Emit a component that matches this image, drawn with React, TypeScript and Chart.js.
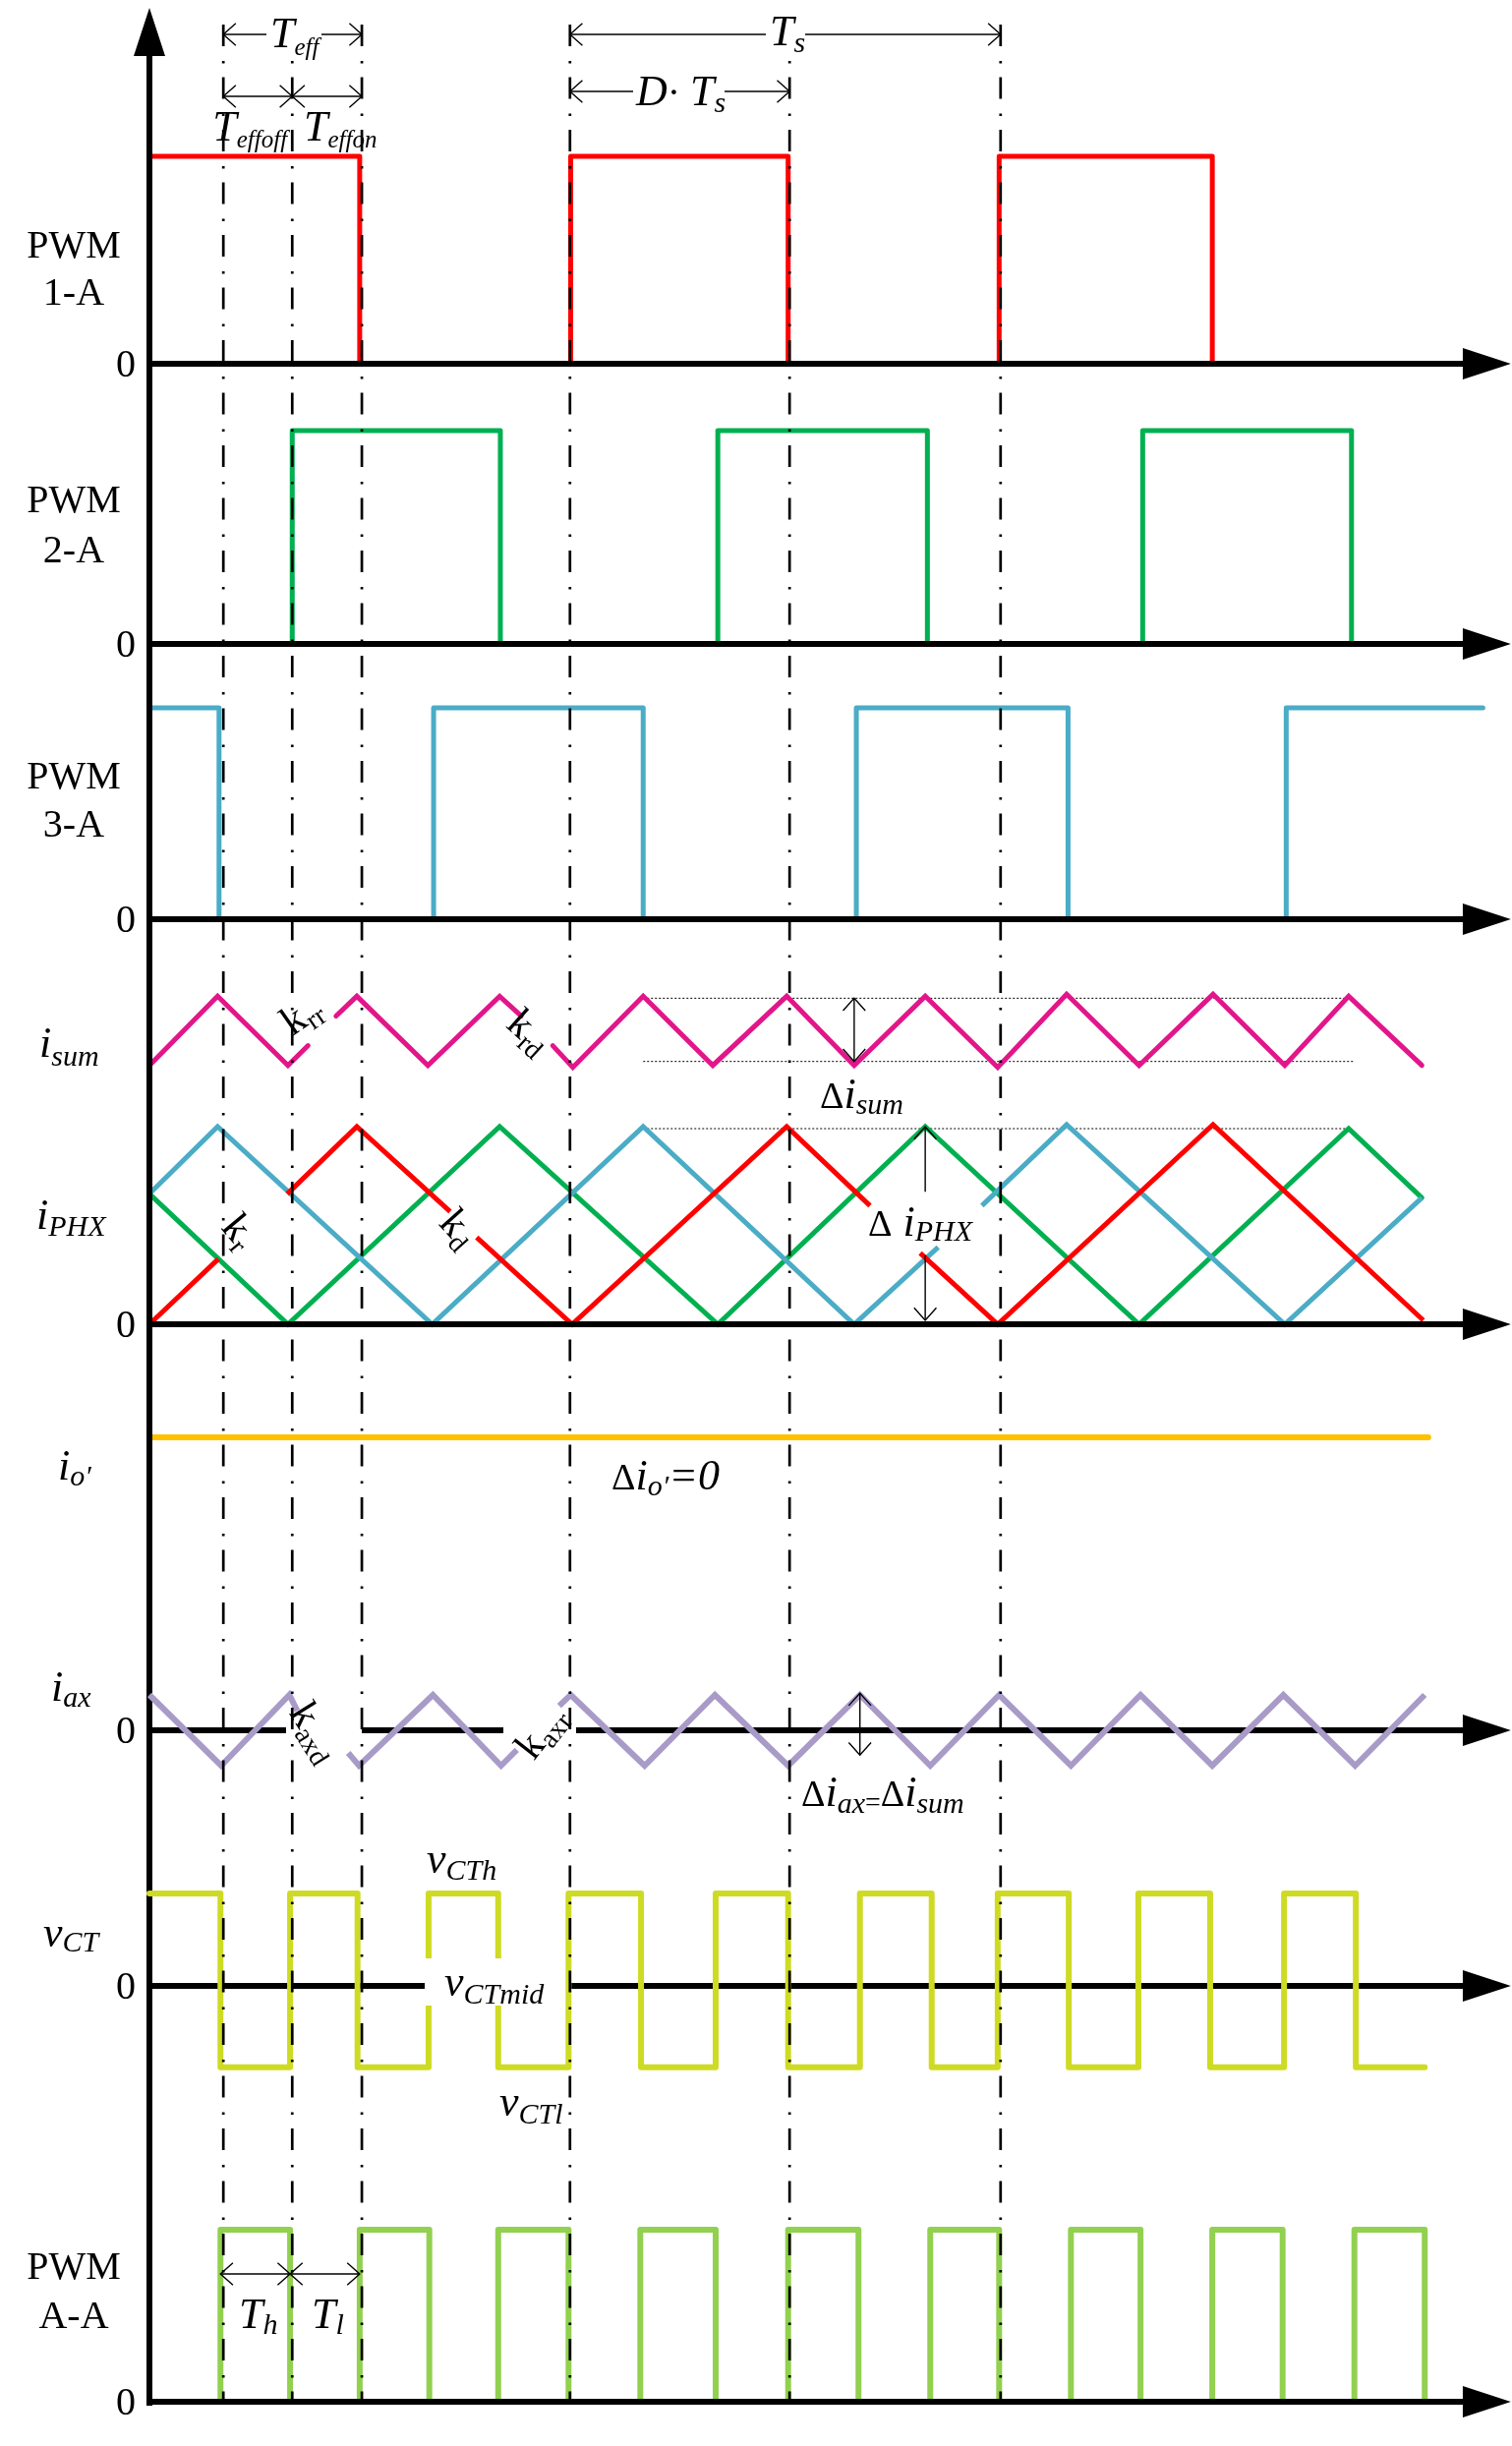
import { useEffect, useRef } from "react";
import { Chart, registerables } from "chart.js";

Chart.register(...registerables);

const W = 1538;
const H = 2488;

// time axis: 1 unit = Ts / 6
const X_MIN = -2.082;
const X_MAX = 18.986;

// vertical dash-dot guide times
const DASH_T = [1.03, 1.99, 2.96, 5.86, 8.92, 11.86];

// PWM signals (edge times, level after edge)
const PWM1_T = [0, 2.93, 5.87, 8.9, 11.84, 14.81];
const PWM1_V = [1, 0, 1, 0, 1, 0];
const PWM2_T = [1.99, 1.99, 4.89, 7.92, 10.84, 13.84, 16.75];
const PWM2_V = [0, 1, 0, 1, 0, 1, 0];
const PWM3_T = [0, 0.97, 3.96, 6.88, 9.85, 12.8, 15.84, 18.58];
const PWM3_V = [1, 0, 1, 0, 1, 0, 1, 1];

// summed current (same scale as phase currents)
const ISUM_T = [0, 0.95, 1.93, 2.21, 2.4, 2.6, 2.89, 3.88, 4.88, 5.18, 5.4, 5.62, 5.9, 6.88, 7.85, 8.88, 9.82, 10.81, 11.82, 12.78, 13.79, 14.82, 15.82, 16.71, 17.73];
const ISUM_V = [1.31, 1.66, 1.31, 1.41, null, 1.56, 1.66, 1.31, 1.66, 1.56, null, 1.41, 1.3, 1.66, 1.31, 1.66, 1.31, 1.66, 1.3, 1.67, 1.31, 1.67, 1.31, 1.66, 1.31];

// phase currents
const IPH1_T = [0, 0.96, 1.4, 1.92, 2.89, 4.19, 4.4, 4.56, 5.89, 8.88, 10.04, 10.4, 10.74, 11.82, 14.82, 17.75];
const IPH1_V = [0, 0.33, null, 0.66, 1.0, 0.57, null, 0.44, 0, 1.0, 0.6, null, 0.36, 0, 1.01, 0.02];
const IPH2_T = [0, 1.93, 4.88, 7.92, 10.81, 13.79, 16.71, 17.73];
const IPH2_V = [0.66, 0, 1.0, 0, 1.0, 0, 0.99, 0.64];
const IPH3_T = [0, 0.95, 3.94, 6.88, 9.82, 10.99, 11.3, 11.6, 12.78, 15.82, 17.73];
const IPH3_V = [0.66, 1.0, 0, 1.0, 0, 0.39, null, 0.6, 1.01, 0, 0.64];

// output current
const IO_T = [0, 17.82];
const IO_V = [0, 0];

// auxiliary current
const IAX_T = [0, 1.0, 1.95, 2.06, 2.4, 2.77, 2.92, 3.95, 4.9, 5.12, 5.4, 5.71, 5.87, 6.9, 7.88, 8.9, 9.9, 10.88, 11.84, 12.84, 13.81, 14.81, 15.8, 16.8, 17.77];
const IAX_V = [1, -1, 1, 0.55, null, -0.64, -1, 1, -1, -0.55, null, 0.69, 1, -1, 1, -1, 1, -1, 1, -1, 1, -1, 1, -1, 1];

// CT voltage (edge times, level after edge)
const VCT_T = [0, 0.99, 1.96, 2.9, 3.89, 4.86, 5.84, 6.85, 7.89, 8.9, 9.9, 10.9, 11.82, 12.81, 13.78, 14.78, 15.81, 16.81, 17.77];
const VCT_V = [1, -0.88, 1, -0.88, 1, -0.88, 1, -0.88, 1, -0.88, 1, -0.88, 1, -0.88, 1, -0.88, 1, -0.88, -0.88];

// PWM A-A
const PWMAA_T = [0.99, 0.99, 1.96, 2.93, 3.9, 4.86, 5.84, 6.84, 7.89, 8.9, 9.88, 10.88, 11.84, 12.84, 13.81, 14.81, 15.79, 16.79, 17.77];
const PWMAA_V = [0, 1, 0, 1, 0, 1, 0, 1, 0, 1, 0, 1, 0, 1, 0, 1, 0, 1, 0];

// ---- layout (row baselines/heights in figure units) ----
type Row = { base: number; amp: number };
const ROW: Record<string, Row> = {
  pwm1: { base: 370, amp: 211 },
  pwm2: { base: 655, amp: 217 },
  pwm3: { base: 935, amp: 215 },
  cur: { base: 1347, amp: 201 },
  io: { base: 1462, amp: 100 },
  iax: { base: 1760, amp: 36 },
  vct: { base: 2020, amp: 94 },
  aa: { base: 2443, amp: 175 },
};
const lv = (r: Row, v: number) => r.base - v * r.amp;

const SERIF = "'Liberation Serif', 'Times New Roman', serif";
const F_UP = `40px ${SERIF}`;
const F_IT = `italic 44px ${SERIF}`;
const F_SUB = `italic 30px ${SERIF}`;
const F_SUB2 = `italic 25px ${SERIF}`;
const F_DELTA = `38px ${SERIF}`;
const F_K = `42px ${SERIF}`;
const F_KSUB = `28px ${SERIF}`;

const C_RED = "#FF0000";
const C_GREEN = "#00B050";
const C_CYAN = "#4BACC6";
const C_MAG = "#E2168A";
const C_ORANGE = "#FFC000";
const C_LAV = "#A99BC8";
const C_YEL = "#CEDB24";
const C_LGREEN = "#92D050";

type Part = { s: string; f: string; dy?: number; dx?: number };

function drawParts(ctx: CanvasRenderingContext2D, x: number, y: number, parts: Part[], align: "left" | "center" = "left") {
  let w = 0;
  for (const p of parts) {
    ctx.font = p.f;
    w += ctx.measureText(p.s).width + (p.dx || 0);
  }
  let cx = align === "center" ? x - w / 2 : x;
  ctx.textAlign = "left";
  ctx.textBaseline = "alphabetic";
  for (const p of parts) {
    ctx.font = p.f;
    cx += p.dx || 0;
    ctx.fillText(p.s, cx, y + (p.dy || 0));
    cx += ctx.measureText(p.s).width;
  }
  return w;
}

function arrow(ctx: CanvasRenderingContext2D, x1: number, y1: number, x2: number, y2: number, h1: boolean, h2: boolean) {
  ctx.beginPath();
  ctx.moveTo(x1, y1);
  ctx.lineTo(x2, y2);
  ctx.stroke();
  const ang = Math.atan2(y2 - y1, x2 - x1);
  const L = 17;
  const a = Math.PI / 4.3;
  const head = (x: number, y: number, dir: number) => {
    ctx.beginPath();
    ctx.moveTo(x + L * Math.cos(dir + a), y + L * Math.sin(dir + a));
    ctx.lineTo(x, y);
    ctx.lineTo(x + L * Math.cos(dir - a), y + L * Math.sin(dir - a));
    ctx.stroke();
  };
  if (h1) head(x1, y1, ang);
  if (h2) head(x2, y2, ang + Math.PI);
}

const AXIS_T0 = -0.04;
const ARROW_BASE_T = 18.3;
const ARROW_TIP_T = 18.97;

// index of the dataset after which the black axes are painted
// (datasets with a lower index are painted over the axes)
const AXES_AFTER_INDEX = 2;

function drawAxes(chart: any) {
  const ctx: CanvasRenderingContext2D = chart.ctx;
  const sx = chart.scales.x;
  const sy = chart.scales.y;
  const X = (t: number) => sx.getPixelForValue(t);
  const Y = (v: number) => sy.getPixelForValue(v);
  ctx.save();
  ctx.strokeStyle = "#000";
  ctx.fillStyle = "#000";
  ctx.lineWidth = 6;
  ctx.lineCap = "butt";
  ctx.beginPath();
  ctx.moveTo(X(0), Y(2447));
  ctx.lineTo(X(0), Y(50));
  ctx.stroke();
  ctx.beginPath();
  ctx.moveTo(X(0), Y(8));
  ctx.lineTo(X(0) - 16, Y(57));
  ctx.lineTo(X(0) + 16, Y(57));
  ctx.closePath();
  ctx.fill();

  const hAxis = (base: number, segs: [number, number][]) => {
    for (const [a, b] of segs) {
      ctx.beginPath();
      ctx.moveTo(X(a), Y(base));
      ctx.lineTo(X(b), Y(base));
      ctx.stroke();
    }
    ctx.beginPath();
    ctx.moveTo(X(ARROW_TIP_T), Y(base));
    ctx.lineTo(X(ARROW_BASE_T), Y(base) - 16);
    ctx.lineTo(X(ARROW_BASE_T), Y(base) + 16);
    ctx.closePath();
    ctx.fill();
  };
  const full: [number, number][] = [[AXIS_T0, ARROW_BASE_T + 0.05]];
  hAxis(ROW.pwm1.base, full);
  hAxis(ROW.pwm2.base, full);
  hAxis(ROW.pwm3.base, full);
  hAxis(ROW.cur.base, full);
  hAxis(ROW.iax.base, [[AXIS_T0, 1.904], [2.959, 4.932], [5.945, ARROW_BASE_T + 0.05]]);
  hAxis(ROW.vct.base, [[AXIS_T0, 3.836], [5.808, ARROW_BASE_T + 0.05]]);
  hAxis(ROW.aa.base, full);
  ctx.restore();
}

const figurePlugin = {
  id: "figure",
  beforeDatasetsDraw(chart: any) {
    const ctx: CanvasRenderingContext2D = chart.ctx;
    const sx = chart.scales.x;
    const sy = chart.scales.y;
    const X = (t: number) => sx.getPixelForValue(t);
    const Y = (v: number) => sy.getPixelForValue(v);
    ctx.save();
    // dotted reference lines
    ctx.strokeStyle = "#000";
    ctx.lineWidth = 1;
    ctx.setLineDash([2, 2]);
    const dotted: [number, number, number][] = [
      [lv(ROW.cur, 1.65), 6.88, 16.74],
      [lv(ROW.cur, 1.33), 6.88, 16.77],
      [lv(ROW.cur, 0.99), 6.88, 16.74],
    ];
    for (const [yv, t0, t1] of dotted) {
      ctx.beginPath();
      ctx.moveTo(X(t0), Y(yv));
      ctx.lineTo(X(t1), Y(yv));
      ctx.stroke();
    }
    ctx.setLineDash([]);
    ctx.restore();
  },
  afterDatasetDraw(chart: any, args: any) {
    if (args.index === AXES_AFTER_INDEX) drawAxes(chart);
  },
  afterDatasetsDraw(chart: any) {
    const ctx: CanvasRenderingContext2D = chart.ctx;
    const sx = chart.scales.x;
    const sy = chart.scales.y;
    const X = (t: number) => sx.getPixelForValue(t);
    const Y = (v: number) => sy.getPixelForValue(v);
    ctx.save();

    // white box behind v_CTmid
    ctx.fillStyle = "#fff";
    ctx.fillRect(X(3.836), Y(1992), X(5.795) - X(3.836), Y(2040) - Y(1992));

    // dash-dot guides
    ctx.strokeStyle = "#000";
    ctx.lineWidth = 2.7;
    ctx.setLineDash([22, 15, 2.5, 14]);
    for (const t of DASH_T) {
      ctx.beginPath();
      ctx.moveTo(X(t), Y(25));
      ctx.lineTo(X(t), Y(2443));
      ctx.stroke();
    }
    ctx.setLineDash([]);

    // thin dimension arrows
    ctx.lineWidth = 1.4;
    ctx.strokeStyle = "#000";
    arrow(ctx, X(DASH_T[0]), Y(35), X(DASH_T[2]), Y(35), true, true);
    arrow(ctx, X(DASH_T[0]), Y(98), X(DASH_T[1]), Y(98), true, true);
    arrow(ctx, X(DASH_T[1]), Y(98), X(DASH_T[2]), Y(98), true, true);
    arrow(ctx, X(DASH_T[3]), Y(35), X(DASH_T[5]), Y(35), true, true);
    arrow(ctx, X(DASH_T[3]), Y(93), X(DASH_T[4]), Y(93), true, true);
    arrow(ctx, X(9.82), Y(lv(ROW.cur, 1.65)), X(9.82), Y(lv(ROW.cur, 1.33)), true, true);
    arrow(ctx, X(10.81), Y(lv(ROW.cur, 1.0)), X(10.81), Y(lv(ROW.cur, 0.67)), true, false);
    arrow(ctx, X(10.81), Y(lv(ROW.cur, 0.35)), X(10.81), Y(lv(ROW.cur, 0.02)), false, true);
    arrow(ctx, X(9.9), Y(lv(ROW.iax, 1.05)), X(9.9), Y(lv(ROW.iax, -0.7)), true, true);
    arrow(ctx, X(PWMAA_T[1]), Y(2313), X(PWMAA_T[2]), Y(2313), true, true);
    arrow(ctx, X(PWMAA_T[2]), Y(2313), X(PWMAA_T[3]), Y(2313), true, true);

    // white boxes behind top labels
    ctx.fillStyle = "#fff";
    ctx.fillRect(X(1.63), Y(16), X(2.397) - X(1.63), Y(62) - Y(16));
    ctx.fillRect(X(8.589), Y(16), X(9.137) - X(8.589), Y(60) - Y(16));
    ctx.fillRect(X(6.74), Y(76), X(8.014) - X(6.74), Y(118) - Y(76));

    ctx.fillStyle = "#000";
    // top labels
    drawParts(ctx, X(1.685), Y(48), [{ s: "T", f: F_IT }, { s: "eff", f: F_SUB2, dy: 8 }]);
    drawParts(ctx, X(0.88), Y(143), [{ s: "T", f: F_IT }, { s: "effoff", f: F_SUB2, dy: 7 }]);
    drawParts(ctx, X(2.15), Y(143), [{ s: "T", f: F_IT }, { s: "effon", f: F_SUB2, dy: 7 }]);
    drawParts(ctx, X(8.644), Y(46), [{ s: "T", f: F_IT }, { s: "s", f: F_SUB, dy: 7 }]);
    drawParts(ctx, X(6.781), Y(107), [
      { s: "D", f: F_IT },
      { s: "\u00B7 ", f: `40px ${SERIF}` },
      { s: "T", f: F_IT },
      { s: "s", f: F_SUB, dy: 7 },
    ]);

    // left labels
    const pwmLabels: [string, number, number][] = [
      ["1-A", 262, 310],
      ["2-A", 521, 572],
      ["3-A", 802, 851],
      ["A-A", 2318, 2368],
    ];
    for (const [s, y1, y2] of pwmLabels) {
      ctx.font = F_UP;
      ctx.textAlign = "center";
      ctx.textBaseline = "alphabetic";
      ctx.fillText("PWM", X(-1.055), Y(y1));
      ctx.fillText(s, X(-1.055), Y(y2));
    }
    for (const r of [ROW.pwm1, ROW.pwm2, ROW.pwm3, ROW.cur, ROW.iax, ROW.vct, ROW.aa]) {
      ctx.textAlign = "right";
      ctx.textBaseline = "alphabetic";
      ctx.font = F_UP;
      ctx.fillText("0", X(-0.192), Y(r.base + 13));
    }

    drawParts(ctx, X(-1.534), Y(1075), [{ s: "i", f: F_IT }, { s: "sum", f: F_SUB, dy: 9 }]);
    drawParts(ctx, X(-1.575), Y(1250), [{ s: "i", f: F_IT }, { s: "PHX", f: F_SUB, dy: 7 }]);
    drawParts(ctx, X(-1.274), Y(1505), [{ s: "i", f: F_IT }, { s: "o\u2032", f: F_SUB, dy: 6 }]);
    drawParts(ctx, X(-1.37), Y(1730), [{ s: "i", f: F_IT }, { s: "ax", f: F_SUB, dy: 6 }]);
    drawParts(ctx, X(-1.479), Y(1980), [{ s: "v", f: F_IT }, { s: "CT", f: F_SUB, dy: 5 }]);

    // inner annotations
    drawParts(ctx, X(9.342), Y(1127), [
      { s: "\u0394", f: F_DELTA },
      { s: "i", f: F_IT },
      { s: "sum", f: F_SUB, dy: 6 },
    ]);
    drawParts(ctx, X(10.014), Y(1257), [
      { s: "\u0394", f: F_DELTA },
      { s: "i", f: F_IT, dx: 11 },
      { s: "PHX", f: F_SUB, dy: 5 },
    ]);
    drawParts(ctx, X(6.438), Y(1515), [
      { s: "\u0394", f: F_DELTA },
      { s: "i", f: F_IT },
      { s: "o\u2032", f: F_SUB, dy: 6 },
      { s: "=0", f: F_IT },
    ]);
    drawParts(ctx, X(9.082), Y(1837), [
      { s: "\u0394", f: F_DELTA },
      { s: "i", f: F_IT },
      { s: "ax", f: F_SUB, dy: 7 },
      { s: "=", f: `28px ${SERIF}`, dy: 5 },
      { s: "\u0394", f: F_DELTA },
      { s: "i", f: F_IT },
      { s: "sum", f: F_SUB, dy: 7 },
    ]);
    drawParts(ctx, X(3.863), Y(1905), [{ s: "v", f: F_IT }, { s: "CTh", f: F_SUB, dy: 7 }]);
    drawParts(ctx, X(4.11), Y(2030), [{ s: "v", f: F_IT }, { s: "CTmid", f: F_SUB, dy: 8 }]);
    drawParts(ctx, X(4.877), Y(2152), [{ s: "v", f: F_IT }, { s: "CTl", f: F_SUB, dy: 8 }]);
    drawParts(ctx, X(1.247), Y(2368), [{ s: "T", f: F_IT }, { s: "h", f: F_SUB, dy: 6 }]);
    drawParts(ctx, X(2.26), Y(2368), [{ s: "T", f: F_IT }, { s: "l", f: F_SUB, dy: 6 }]);

    // rotated slope labels
    const kLabels: [string, number, number, number][] = [
      ["rr", 2.123, 1033, -35],
      ["rd", 5.288, 1050, 42],
      ["r", 1.247, 1253, 50],
      ["d", 4.301, 1250, 48],
      ["axd", 2.301, 1762, 58],
      ["axr", 5.466, 1762, -52],
    ];
    for (const [sub, t, yv, deg] of kLabels) {
      ctx.save();
      ctx.translate(X(t), Y(yv));
      ctx.rotate((deg * Math.PI) / 180);
      drawParts(ctx, 0, 12, [{ s: "k", f: F_K }, { s: sub, f: F_KSUB, dy: 7 }], "center");
      ctx.restore();
    }

    ctx.restore();
  },
};

function series(ts: number[], vs: (number | null)[], row: Row) {
  return ts.map((t, i) => ({ x: t, y: vs[i] == null ? null : lv(row, vs[i] as number) }));
}

export default function App() {
  const ref = useRef<HTMLCanvasElement | null>(null);
  useEffect(() => {
    if (!ref.current) return;
    const base = {
      showLine: true,
      pointRadius: 0,
      pointHoverRadius: 0,
      fill: false,
      spanGaps: false,
      tension: 0,
      clip: false as any,
    };
    const step = "before";
    // lower index = painted later (on top)
    const datasets: any[] = [
      { ...base, label: "i_ax", data: series(IAX_T, IAX_V, ROW.iax), borderColor: C_LAV, borderWidth: 6, borderJoinStyle: "miter", borderCapStyle: "butt" },
      { ...base, label: "v_CT", data: series(VCT_T, VCT_V, ROW.vct), borderColor: C_YEL, borderWidth: 6, stepped: step, borderJoinStyle: "round", borderCapStyle: "round" },
      { ...base, label: "PWM A-A", data: series(PWMAA_T, PWMAA_V, ROW.aa), borderColor: C_LGREEN, borderWidth: 6, stepped: step, borderJoinStyle: "round", borderCapStyle: "round" },
      { ...base, label: "PWM 1-A", data: series(PWM1_T, PWM1_V, ROW.pwm1), borderColor: C_RED, borderWidth: 5, stepped: step, borderJoinStyle: "round", borderCapStyle: "round" },
      { ...base, label: "PWM 2-A", data: series(PWM2_T, PWM2_V, ROW.pwm2), borderColor: C_GREEN, borderWidth: 5, stepped: step, borderJoinStyle: "round", borderCapStyle: "round" },
      { ...base, label: "PWM 3-A", data: series(PWM3_T, PWM3_V, ROW.pwm3), borderColor: C_CYAN, borderWidth: 5, stepped: step, borderJoinStyle: "round", borderCapStyle: "round" },
      { ...base, label: "i_sum", data: series(ISUM_T, ISUM_V, ROW.cur), borderColor: C_MAG, borderWidth: 5, borderJoinStyle: "miter", borderCapStyle: "round" },
      { ...base, label: "i_PH1", data: series(IPH1_T, IPH1_V, ROW.cur), borderColor: C_RED, borderWidth: 5, borderJoinStyle: "miter", borderCapStyle: "butt" },
      { ...base, label: "i_PH3", data: series(IPH3_T, IPH3_V, ROW.cur), borderColor: C_CYAN, borderWidth: 5, borderJoinStyle: "miter", borderCapStyle: "butt" },
      { ...base, label: "i_PH2", data: series(IPH2_T, IPH2_V, ROW.cur), borderColor: C_GREEN, borderWidth: 5, borderJoinStyle: "miter", borderCapStyle: "round" },
      { ...base, label: "i_o'", data: series(IO_T, IO_V, ROW.io), borderColor: C_ORANGE, borderWidth: 6, borderCapStyle: "round" },
    ];
    const chart = new Chart(ref.current, {
      type: "scatter",
      data: { datasets },
      options: {
        animation: false,
        responsive: false,
        maintainAspectRatio: false,
        devicePixelRatio: 1,
        events: [],
        layout: { padding: 0 },
        plugins: { legend: { display: false }, tooltip: { enabled: false }, title: { display: false } },
        scales: {
          x: { type: "linear", min: X_MIN, max: X_MAX, display: false },
          y: { type: "linear", min: 0, max: H, reverse: true, display: false },
        },
      } as any,
      plugins: [figurePlugin as any],
    });
    return () => chart.destroy();
  }, []);
  return (
    <div style={{ position: "absolute", left: 0, top: 0, width: W, height: H, background: "#fff" }}>
      <canvas ref={ref} width={W} height={H} style={{ display: "block", width: W, height: H }} />
    </div>
  );
}
